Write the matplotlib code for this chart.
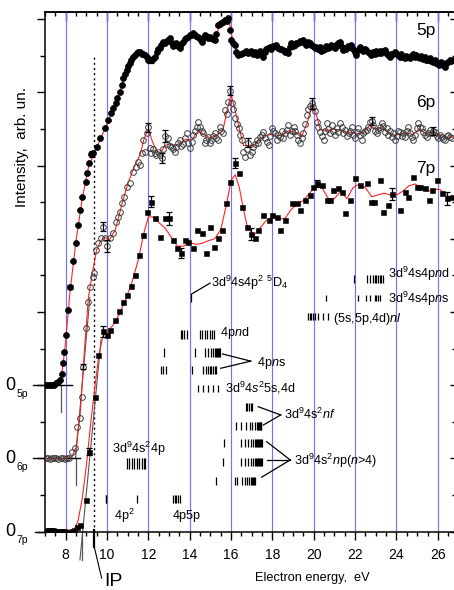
import numpy as np
import matplotlib
matplotlib.use('Agg')
import matplotlib.pyplot as plt
from matplotlib import font_manager as fm

names = {f.name for f in fm.fontManager.ttflist}
BASE = 'Liberation Sans' if 'Liberation Sans' in names else 'DejaVu Sans'
NARROW = 'Liberation Sans Narrow' if 'Liberation Sans Narrow' in names else None
plt.rcParams['font.family'] = [BASE, 'DejaVu Sans']
plt.rcParams['mathtext.fontset'] = 'custom'
plt.rcParams['mathtext.rm'] = BASE
plt.rcParams['mathtext.it'] = BASE + ':italic'
plt.rcParams['mathtext.bf'] = BASE + ':bold'

# ---------------- data ----------------
# 5p (filled circles), offset baseline 4
e5 = [7.05, 7.15, 7.25, 7.35, 7.45, 7.55, 7.65, 7.72, 7.80, 7.86,
      7.93, 8.02, 8.12, 8.22, 8.37, 8.48, 8.61, 8.69, 8.80, 8.97,
      9.05, 9.14, 9.22, 9.30, 9.50, 9.66, 9.90, 10.06, 10.20, 10.30,
      10.41, 10.50, 10.62, 10.70, 10.78, 10.87, 10.95, 11.03, 11.10, 11.18,
      11.27, 11.35, 11.43, 11.51, 11.59, 11.67, 11.75, 11.83, 11.91, 12.00,
      12.12, 12.22, 12.31, 12.40, 12.48, 12.55, 12.63, 12.72, 12.80, 12.88,
      12.96, 13.04, 13.12, 13.20, 13.28, 13.36, 13.44, 13.52, 13.60, 13.68,
      13.76, 13.84, 13.92, 14.00, 14.08, 14.16, 14.24, 14.32, 14.41, 14.49,
      14.57, 14.65, 14.73, 14.81, 14.89, 14.97, 15.05, 15.13, 15.21, 15.29,
      15.37, 15.45, 15.53, 15.61, 15.70, 15.78, 15.86, 15.94, 16.02, 16.10,
      16.18, 16.26, 16.34, 16.42, 16.50, 16.58, 16.66, 16.74, 16.82, 16.90,
      16.98, 17.06, 17.14, 17.23, 17.31, 17.39, 17.47, 17.55, 17.63, 17.71,
      17.79, 17.87, 17.95, 18.03, 18.11, 18.19, 18.27, 18.35, 18.43, 18.51,
      18.59, 18.67, 18.75, 18.83, 18.92, 19.00, 19.08, 19.16, 19.24, 19.32,
      19.40, 19.48, 19.56, 19.64, 19.72, 19.80, 19.88, 19.96, 20.04, 20.13,
      20.21, 20.29, 20.37, 20.45, 20.53, 20.61, 20.69, 20.77, 20.85, 20.93,
      21.01, 21.09, 21.17, 21.25, 21.33, 21.41, 21.49, 21.57, 21.65, 21.73,
      21.82, 21.90, 21.98, 22.06, 22.14, 22.22, 22.30, 22.38, 22.46, 22.54,
      22.62, 22.70, 22.78, 22.86, 22.94, 23.02, 23.10, 23.18, 23.26, 23.34,
      23.43, 23.51, 23.59, 23.67, 23.75, 23.83, 23.91, 23.99, 24.07, 24.15,
      24.23, 24.31, 24.39, 24.47, 24.56, 24.64, 24.72, 24.80, 24.88, 24.96,
      25.04, 25.12, 25.20, 25.28, 25.36, 25.44, 25.52, 25.60, 25.68, 25.76,
      25.84, 25.92, 26.00, 26.08, 26.16, 26.24, 26.33, 26.41, 26.49, 26.57,
      26.65, 26.73]
y5 = [4.00, 4.00, 4.00, 4.01, 4.02, 4.05, 4.10, 4.14, 4.30, 4.60,
      4.92, 5.37, 6.05, 6.69, 7.40, 7.90, 8.38, 8.78, 9.15, 9.56,
      9.79, 10.06, 10.32, 10.34, 10.52, 10.75, 11.02, 11.25, 11.45, 11.57,
      11.70, 11.85, 12.02, 12.20, 12.39, 12.50, 12.61, 12.72, 12.80, 12.88,
      12.98, 13.02, 13.07, 13.10, 13.11, 13.06, 13.04, 13.02, 12.97, 12.90,
      12.89, 12.92, 12.98, 13.10, 13.18, 13.21, 13.30, 13.39, 13.36, 13.41,
      13.43, 13.48, 13.34, 13.28, 13.30, 13.34, 13.26, 13.21, 13.33, 13.39,
      13.45, 13.48, 13.52, 13.56, 13.58, 13.62, 13.57, 13.55, 13.52, 13.45,
      13.39, 13.50, 13.57, 13.55, 13.50, 13.52, 13.48, 13.45, 13.43, 13.60,
      13.84, 13.88, 13.90, 13.93, 13.98, 13.96, 14.03, 13.70, 13.43, 13.36,
      13.30, 13.10, 13.02, 13.06, 13.04, 13.07, 13.10, 13.12, 13.08, 13.11,
      13.14, 13.06, 13.10, 13.02, 13.08, 13.12, 13.04, 12.98, 13.10, 13.18,
      13.22, 13.25, 13.20, 13.28, 13.26, 13.30, 13.22, 13.18, 13.20, 13.16,
      13.10, 13.12, 13.07, 13.25, 13.34, 13.28, 13.30, 13.34, 13.36, 13.40,
      13.38, 13.43, 13.36, 13.30, 13.38, 13.34, 13.30, 13.28, 13.22, 13.25,
      13.20, 13.24, 13.12, 13.16, 13.20, 13.26, 13.22, 13.25, 13.30, 13.28,
      13.22, 13.30, 13.34, 13.39, 13.26, 13.16, 13.22, 13.20, 13.28, 13.25,
      13.30, 13.18, 13.10, 13.02, 13.15, 13.25, 13.18, 13.12, 13.20, 13.16,
      13.10, 13.08, 13.02, 13.10, 13.06, 13.12, 13.07, 13.12, 13.08, 13.12,
      13.16, 13.08, 13.02, 12.98, 13.06, 13.04, 13.10, 13.07, 13.02, 12.98,
      13.04, 12.98, 12.94, 13.00, 12.96, 12.93, 13.00, 13.04, 12.98, 13.02,
      12.96, 12.94, 13.00, 12.92, 12.98, 12.90, 12.88, 12.94, 12.86, 12.84,
      12.88, 12.80, 12.78, 12.75, 12.82, 12.74, 12.70, 12.80, 12.84, 12.89,
      12.86, 12.90]
fe5 = [7.0, 7.5, 7.7, 7.85, 8.0, 8.2, 8.5, 8.8, 9.1, 9.4, 9.7, 10.0, 10.4, 10.8,
       11.1, 11.4, 11.6, 11.8, 12.0, 12.15, 12.3, 12.5, 12.8, 13.0, 13.3, 13.6,
       14.0, 14.4, 14.8, 15.2, 15.4, 15.7, 15.9, 16.1, 16.4, 16.8, 17.2, 17.6,
       18.0, 18.4, 18.8, 19.2, 19.6, 20.0, 20.4, 20.8, 21.2, 21.6, 22.0, 22.4,
       22.8, 23.2, 23.6, 24.0, 24.4, 24.8, 25.2, 25.6, 26.0, 26.4, 26.8]
fy5 = [4.0, 4.02, 4.12, 4.45, 5.2, 6.5, 7.95, 9.1, 9.95, 10.38, 10.75, 11.15,
       11.65, 12.35, 12.8, 13.04, 13.1, 13.05, 12.92, 12.86, 12.95, 13.2, 13.38,
       13.42, 13.32, 13.36, 13.52, 13.55, 13.5, 13.46, 13.75, 13.95, 13.98, 13.35,
       13.05, 13.08, 13.08, 13.05, 13.25, 13.2, 13.12, 13.32, 13.35, 13.25, 13.18,
       13.24, 13.28, 13.25, 13.12, 13.15, 13.07, 13.1, 13.05, 13.04, 12.98, 12.98,
       12.95, 12.9, 12.8, 12.75, 12.85]

# 6p (open circles), offset baseline 2
e6 = [7.05, 7.15, 7.25, 7.35, 7.45, 7.55, 7.65, 7.75, 7.85, 7.95,
      8.05, 8.15, 8.29, 8.45, 8.57, 8.69, 8.77, 8.85, 8.98, 9.09,
      9.17, 9.30, 9.38, 9.45, 9.58, 9.71, 9.80, 9.90, 10.00, 10.14,
      10.30, 10.41, 10.54, 10.62, 10.73, 10.83, 10.95, 11.10, 11.27, 11.38,
      11.50, 11.59, 11.67, 11.75, 11.83, 11.91, 11.99, 12.07, 12.15, 12.23,
      12.31, 12.39, 12.47, 12.56, 12.64, 12.72, 12.80, 12.88, 12.96, 13.04,
      13.12, 13.20, 13.28, 13.36, 13.44, 13.52, 13.60, 13.68, 13.77, 13.85,
      13.93, 14.01, 14.09, 14.17, 14.25, 14.33, 14.41, 14.49, 14.57, 14.65,
      14.73, 14.81, 14.89, 14.97, 15.05, 15.13, 15.21, 15.29, 15.37, 15.45,
      15.53, 15.61, 15.69, 15.78, 15.87, 15.95, 16.03, 16.11, 16.19, 16.27,
      16.36, 16.44, 16.52, 16.60, 16.68, 16.76, 16.84, 16.92, 17.00, 17.08,
      17.16, 17.24, 17.32, 17.40, 17.48, 17.56, 17.64, 17.72, 17.81, 17.89,
      17.97, 18.05, 18.13, 18.21, 18.29, 18.37, 18.45, 18.53, 18.61, 18.69,
      18.77, 18.86, 18.94, 19.02, 19.10, 19.18, 19.26, 19.34, 19.42, 19.50,
      19.58, 19.66, 19.74, 19.82, 19.90, 19.98, 20.06, 20.14, 20.22, 20.30,
      20.38, 20.47, 20.55, 20.63, 20.71, 20.79, 20.87, 20.95, 21.03, 21.11,
      21.19, 21.27, 21.35, 21.43, 21.51, 21.59, 21.68, 21.76, 21.84, 21.92,
      22.00, 22.08, 22.16, 22.24, 22.32, 22.40, 22.48, 22.56, 22.64, 22.72,
      22.80, 22.88, 22.96, 23.04, 23.12, 23.20, 23.29, 23.37, 23.45, 23.53,
      23.61, 23.69, 23.77, 23.85, 23.93, 24.01, 24.09, 24.17, 24.25, 24.33,
      24.41, 24.49, 24.58, 24.66, 24.74, 24.82, 24.90, 24.98, 25.06, 25.14,
      25.22, 25.30, 25.38, 25.46, 25.54, 25.62, 25.70, 25.78, 25.86, 25.94,
      26.02, 26.10, 26.18, 26.26, 26.34, 26.42, 26.50, 26.59, 26.67]
y6 = [2.00, 2.01, 1.99, 2.00, 2.01, 2.00, 1.99, 2.00, 2.01, 1.98,
      2.00, 2.02, 2.19, 2.30, 2.87, 3.10, 3.69, 4.51, 5.56, 6.28,
      6.69, 6.95, 7.06, 7.70, 7.88, 8.02, 8.33, 8.02, 7.81, 8.02,
      8.15, 8.47, 8.61, 8.74, 8.97, 9.15, 9.43, 9.52, 9.84, 9.97,
      10.10, 10.02, 10.34, 10.70, 10.38, 10.89, 11.05, 10.48, 10.34, 10.45,
      10.34, 10.29, 10.38, 10.30, 10.21, 10.45, 10.82, 10.60, 10.75, 10.55,
      10.52, 10.45, 10.38, 10.50, 10.62, 10.70, 10.55, 10.60, 10.75, 10.89,
      10.62, 10.48, 10.66, 10.84, 10.95, 11.05, 11.20, 11.07, 10.95, 10.89,
      10.61, 10.70, 10.79, 10.62, 10.70, 10.80, 10.89, 10.75, 10.70, 11.07,
      10.95, 10.89, 11.52, 11.40, 11.75, 12.05, 11.70, 11.55, 11.30, 11.15,
      11.02, 10.85, 10.70, 10.38, 10.25, 10.45, 10.63, 10.30, 10.38, 10.52,
      10.60, 10.70, 10.62, 10.79, 10.85, 10.93, 10.75, 10.65, 10.56, 10.80,
      11.02, 10.95, 10.89, 10.70, 10.84, 10.79, 10.95, 10.75, 10.89, 10.98,
      11.11, 10.85, 10.95, 11.07, 10.95, 10.84, 10.70, 10.62, 10.75, 10.90,
      11.15, 11.39, 11.55, 11.62, 11.70, 11.60, 11.48, 11.20, 11.05, 10.93,
      10.80, 10.70, 10.95, 11.16, 11.00, 10.90, 11.11, 10.95, 10.85, 11.02,
      10.92, 11.16, 11.05, 10.88, 10.98, 10.80, 10.89, 10.95, 11.05, 10.84,
      10.75, 10.92, 11.02, 10.85, 10.70, 10.88, 10.95, 10.98, 11.05, 11.20,
      11.22, 11.10, 10.95, 10.89, 10.98, 11.05, 11.16, 11.08, 10.92, 11.02,
      10.85, 10.95, 10.79, 10.88, 10.70, 10.82, 10.95, 10.93, 10.80, 10.88,
      10.79, 10.95, 11.07, 10.90, 10.78, 10.70, 10.85, 11.02, 11.16, 11.05,
      11.02, 10.92, 10.85, 10.79, 10.90, 10.98, 10.88, 10.95, 10.92, 10.80,
      10.75, 10.84, 10.78, 10.72, 10.70, 10.80, 10.85, 10.79, 10.75]
fe6 = [7.0, 8.0, 8.3, 8.5, 8.7, 8.9, 9.1, 9.3, 9.5, 9.7, 9.9, 10.1, 10.4, 10.7,
       11.0, 11.3, 11.6, 11.8, 12.0, 12.2, 12.4, 12.6, 12.8, 13.0, 13.2, 13.5,
       13.8, 14.1, 14.4, 14.7, 15.0, 15.3, 15.6, 15.8, 16.0, 16.2, 16.4, 16.6,
       16.8, 17.0, 17.3, 17.6, 17.9, 18.2, 18.5, 18.8, 19.1, 19.4, 19.7, 19.9,
       20.1, 20.3, 20.6, 20.9, 21.2, 21.5, 21.8, 22.1, 22.4, 22.7, 23.0, 23.3,
       23.6, 23.9, 24.2, 24.5, 24.8, 25.1, 25.4, 25.7, 26.0, 26.3, 26.8]
fy6 = [2.0, 2.0, 2.05, 2.3, 3.2, 4.9, 6.4, 7.1, 7.7, 7.95, 8.05, 7.95, 8.25, 8.9,
       9.5, 9.95, 10.3, 10.75, 11.0, 10.65, 10.4, 10.35, 10.55, 10.6, 10.55, 10.6,
       10.72, 10.7, 10.95, 10.85, 10.75, 10.85, 10.95, 11.5, 11.95, 11.5, 11.0,
       10.55, 10.55, 10.5, 10.68, 10.82, 10.85, 10.8, 10.85, 10.95, 10.92, 10.78,
       11.2, 11.65, 11.45, 11.0, 10.95, 11.0, 10.98, 10.92, 10.9, 10.88, 10.9,
       11.1, 11.0, 11.05, 10.9, 10.82, 10.88, 10.9, 10.85, 11.0, 10.88, 10.92,
       10.88, 10.78, 10.78]

# 7p (filled squares), baseline 0
e7 = [7.10, 7.20, 7.30, 7.40, 7.50, 7.60, 7.70, 7.80, 7.90, 8.00,
      8.10, 8.20, 8.30, 8.40, 8.53, 8.69, 8.98, 9.14, 9.42, 9.58,
      9.79, 9.98, 10.14, 10.38, 10.59, 10.79, 10.95, 11.15, 11.35, 11.56,
      11.75, 11.94, 12.15, 12.31, 12.56, 12.80, 12.99, 13.17, 13.37, 13.56,
      13.77, 13.92, 14.17, 14.33, 14.57, 14.78, 14.97, 15.18, 15.37, 15.54,
      15.74, 15.95, 16.19, 16.36, 16.52, 16.76, 16.95, 17.16, 17.32, 17.56,
      17.81, 17.97, 18.21, 18.37, 18.61, 18.94, 19.18, 19.34, 19.58, 19.82,
      19.98, 20.14, 20.39, 20.63, 20.79, 20.95, 21.19, 21.36, 21.52, 21.76,
      22.00, 22.24, 22.56, 22.75, 22.90, 23.20, 23.36, 23.60, 23.77, 24.17,
      24.41, 24.58, 24.82, 24.98, 25.14, 25.38, 25.55, 25.71, 25.95, 26.20,
      26.44, 26.68]
y7 = [0.05, 0.05, 0.04, 0.05, 0.03, 0.02, 0.02, 0.01, 0.02, 0.00,
      -0.02, -0.03, 0.01, 0.05, 0.12, 0.18, 0.87, 2.19, 3.69, 4.83,
      5.47, 5.37, 5.51, 5.78, 6.03, 6.28, 6.47, 6.71, 7.01, 7.56,
      8.11, 8.73, 9.02, 8.56, 8.04, 8.56, 8.56, 7.97, 7.74, 7.61,
      7.97, 7.92, 7.74, 8.24, 8.15, 7.61, 8.33, 7.79, 8.02, 8.24,
      8.97, 9.56, 10.07, 9.79, 8.88, 8.33, 8.13, 8.02, 8.24, 8.65,
      8.52, 8.65, 8.61, 8.24, 8.52, 8.97, 8.97, 8.79, 9.06, 9.20,
      9.43, 9.52, 9.47, 9.06, 9.06, 9.33, 9.38, 9.29, 8.70, 9.06,
      9.66, 9.47, 9.52, 9.02, 9.02, 9.61, 8.74, 8.92, 9.22, 8.79,
      9.29, 9.15, 9.70, 9.43, 9.43, 9.38, 9.06, 9.33, 9.61, 9.25,
      9.11, 9.15]
fe7 = [7.0, 8.4, 8.6, 8.8, 9.0, 9.2, 9.4, 9.6, 9.8, 10.0, 10.3, 10.6, 10.9, 11.2,
       11.5, 11.8, 12.0, 12.2, 12.5, 12.8, 13.1, 13.4, 13.7, 14.0, 14.3, 14.6,
       14.9, 15.2, 15.5, 15.8, 16.0, 16.2, 16.4, 16.6, 16.8, 17.1, 17.4, 17.7,
       18.0, 18.3, 18.6, 18.9, 19.2, 19.5, 19.8, 20.1, 20.4, 20.7, 21.0, 21.3,
       21.6, 21.9, 22.2, 22.5, 22.8, 23.1, 23.4, 23.7, 24.0, 24.3, 24.6, 24.9,
       25.2, 25.5, 25.8, 26.1, 26.4, 26.8]
fy7 = [0.02, 0.05, 0.3, 0.9, 1.8, 2.9, 3.9, 4.8, 5.35, 5.45, 5.65, 5.95, 6.35,
       6.8, 7.4, 8.2, 8.6, 8.6, 8.45, 8.3, 8.05, 7.8, 7.8, 7.9, 7.85, 7.88, 7.95,
       8.0, 8.25, 9.0, 9.6, 9.75, 9.4, 8.8, 8.3, 8.1, 8.3, 8.5, 8.6, 8.55, 8.55,
       8.8, 8.95, 9.05, 9.25, 9.45, 9.4, 9.1, 9.1, 9.3, 9.1, 9.4, 9.5, 9.4, 9.15,
       9.2, 9.25, 9.2, 9.2, 9.3, 9.45, 9.5, 9.4, 9.3, 9.35, 9.35, 9.2, 9.1]

# error bars: energy, value, half-height
err5_e = [8.22, 9.26, 12.12]
err5_y = [6.69, 10.32, 12.89]
err5_d = [0.05, 0.07, 0.09]
err6_e = [8.85, 9.80, 10.00, 11.99, 12.64, 12.80, 15.95, 16.84, 19.90, 22.80, 25.78]
err6_y = [4.51, 8.33, 7.81, 11.05, 10.21, 10.82, 12.05, 10.63, 11.70, 11.22, 10.95]
err6_d = [0.07, 0.12, 0.16, 0.12, 0.13, 0.16, 0.12, 0.12, 0.14, 0.12, 0.12]
err7_e = [9.14, 9.79, 12.15, 12.99, 13.56, 16.19, 16.95, 20.14, 23.77, 26.44]
err7_y = [2.19, 5.47, 9.02, 8.56, 7.61, 10.07, 8.13, 9.52, 9.22, 9.11]
err7_d = [0.10, 0.14, 0.14, 0.18, 0.14, 0.14, 0.16, 0.09, 0.16, 0.18]

# ionisation potential (eV)
ip_energy = 9.38

# calculated transition energies (eV), one list per row of sticks
s_5D4 = [14.04]
s_4pnd = [13.56, 13.63, 13.71, 13.85, 14.49, 14.60, 14.73, 14.84, 14.97, 15.10, 15.18]
s_4pns_a = [12.75, 14.25, 14.73, 14.89, 15.02, 15.13, 15.20, 15.25, 15.30, 15.35, 15.40, 15.45]
s_4pns_b = [12.59, 12.69, 12.85, 14.09, 14.65, 14.78, 14.89, 14.97, 15.05, 15.13, 15.21, 15.29]
s_5s4d = [14.41, 14.65, 14.89, 15.13, 15.37]
s_nf_a = [16.70, 16.78, 16.86, 16.94, 17.02]
s_nf_b = [16.26, 16.50, 16.74, 16.90, 17.03, 17.15, 17.23, 17.28, 17.33, 17.38, 17.43, 17.47]
s_np_a = [15.65, 16.50, 16.66, 16.82, 16.94, 17.06, 17.15, 17.20, 17.25, 17.30, 17.35, 17.40, 17.45, 17.50]
s_np_b = [15.60, 16.50, 16.66, 16.82, 16.94, 17.06, 17.15, 17.20, 17.25, 17.30, 17.35, 17.40, 17.45, 17.50]
s_np_c = [15.29, 16.18, 16.29, 16.55, 16.66, 16.77, 16.87, 16.95, 17.00, 17.05, 17.10, 17.15]
s_4s24p = [10.95, 11.07, 11.19, 11.31, 11.43, 11.54, 11.67, 11.78, 11.86]
s_4p2 = [9.93, 9.97, 11.46]
s_4p5p = [13.20, 13.28, 13.36, 13.44, 13.52]
s_4s4pnd = [21.93, 22.57, 22.73, 22.86, 22.94, 23.02, 23.10, 23.18, 23.27, 23.34]
s_4s4pns = [20.57, 22.13, 22.54, 22.70, 22.94, 23.02, 23.10, 23.18]
s_nl = [19.72, 19.80, 19.88, 19.96, 20.04, 20.20, 20.44, 20.69]

series_labels = ['5p', '6p', '7p']
xtick_vals = [8, 10, 12, 14, 16, 18, 20, 22, 24, 26]

# ---------------- figure ----------------
W, H = 454, 590
fig = plt.figure(figsize=(W / 100, H / 100), dpi=100)
ax = fig.add_axes([45 / W, 58.3 / H, 410 / W, 519.4 / H])
ax.set_xlim(7.0, 26.83)
ax.set_ylim(0, 14.19)

BLUE = '#7373ff'
RED = '#ff2424'
for g in xtick_vals:
    ax.axvline(g, color=BLUE, lw=0.85, zorder=1)

# IP dotted line
ax.plot([ip_energy, ip_energy], [0, 12.98], color='k', lw=1.0, ls=(0, (1.5, 2.2)), zorder=2)
ax.plot([ip_energy, ip_energy], [0.05, -0.41], color='k', lw=1.6, clip_on=False, zorder=2)
ax.plot([ip_energy, 9.74], [-0.41, -1.27], color='k', lw=0.8, clip_on=False)
ax.text(9.85, -1.14, 'IP', fontsize=14, ha='left', va='top', clip_on=False)

# gray threshold guides
GRAY = '#555555'
ax.plot([7.75, 7.75], [4.0, 3.27], color=GRAY, lw=0.9, clip_on=False, zorder=2)
ax.plot([8.48, 8.48], [2.0, 1.27], color=GRAY, lw=0.9, clip_on=False, zorder=2)
ax.plot([8.48, 9.17], [2.0, 6.4], color=GRAY, lw=0.8, zorder=2)
ax.plot([8.80, 8.80], [0.0, -0.77], color=GRAY, lw=0.9, clip_on=False, zorder=2)
ax.plot([8.69, 9.71], [-0.77, 5.24], color=GRAY, lw=0.8, clip_on=False, zorder=2)

# zero baselines extending past the left spine
ax.plot([6.42, 8.30], [4.0, 4.0], color='k', lw=1.0, clip_on=False, zorder=2)
ax.plot([6.42, 8.69], [2.0, 2.0], color='k', lw=1.0, clip_on=False, zorder=2)
ax.plot([6.52, 7.0], [0.0, 0.0], color='k', lw=1.0, clip_on=False, zorder=2)

# fits
ax.plot(fe5, fy5, color=RED, lw=0.8, zorder=3)
ax.plot(fe6, fy6, color=RED, lw=0.8, zorder=3)
ax.plot(fe7, fy7, color=RED, lw=0.8, zorder=3)

# data
ax.plot(e5, y5, 'o', ms=4.3, mfc='k', mec='k', mew=0.5, ls='none', zorder=4)
ax.plot(e6, y6, 'o', ms=4.1, mfc='none', mec='#3c3c3c', mew=0.7, ls='none', zorder=4)
ax.plot(e7, y7, 's', ms=3.6, mfc='k', mec='k', mew=0.4, ls='none', zorder=4)

for ee, yy, dd in ((err5_e, err5_y, err5_d), (err6_e, err6_y, err6_d), (err7_e, err7_y, err7_d)):
    ax.errorbar(ee, yy, yerr=dd, fmt='none', ecolor='k', elinewidth=0.9,
                capsize=2.2, capthick=0.9, zorder=5)

# stick spectra
rows = [
    (s_5D4, 6.28, 6.52), (s_4pnd, 5.26, 5.51), (s_4pns_a, 4.78, 5.01),
    (s_4pns_b, 4.31, 4.53), (s_5s4d, 3.83, 4.01), (s_nf_a, 3.31, 3.51),
    (s_nf_b, 2.78, 3.00), (s_np_a, 2.31, 2.52), (s_np_b, 1.80, 2.02),
    (s_np_c, 1.28, 1.50), (s_4s24p, 1.70, 2.00), (s_4p2, 0.79, 1.00),
    (s_4p5p, 0.79, 1.00), (s_4s4pnd, 6.79, 7.00), (s_4s4pns, 6.31, 6.47),
    (s_nl, 5.78, 5.98),
]
for en, lo, hi in rows:
    ax.vlines(en, lo, hi, colors='k', lw=0.9, zorder=3)

# bracket / pointer lines
lines_k = [
    ([14.14, 14.98], [6.51, 6.79]),
    ([15.59, 16.95], [4.855, 4.66]), ([15.50, 16.95], [4.465, 4.66]),
    ([17.31, 18.40], [3.415, 3.19]), ([17.56, 18.40], [2.915, 3.19]),
    ([17.72, 18.86], [2.46, 1.96]), ([17.72, 18.86], [1.96, 1.96]),
    ([17.48, 18.86], [1.49, 1.96]),
]
for xs, ys in lines_k:
    ax.plot(xs, ys, color='k', lw=0.9, zorder=3)

FS = 9.1
ax.text(15.05, 6.79, r'3d$^9$4s4p$^2$ $^5$D$_4$', fontsize=FS, va='center', ha='left')
ax.text(15.45, 5.43, r'4p$\mathit{n}$d', fontsize=FS, va='center', ha='left')
ax.text(17.24, 4.62, r'4p$\mathit{n}$s', fontsize=FS, va='center', ha='left')
ax.text(15.70, 3.94, r'3d$^9$4$\mathit{s}^2$5s,4d', fontsize=FS, va='center', ha='left')
ax.text(18.54, 3.20, r'3d$^9$4s$^2$$\mathit{nf}$', fontsize=FS, va='center', ha='left')
ax.text(19.03, 1.94, r'3d$^9$4s$^2$$\mathit{n}$p($\mathit{n}$>4)', fontsize=FS, va='center', ha='left')
ax.text(10.22, 2.26, r'3d$^9$4s$^2$4p', fontsize=FS, va='center', ha='left')
ax.text(10.33, 0.44, r'4p$^2$', fontsize=FS, va='center', ha='left')
ax.text(13.17, 0.42, '4p5p', fontsize=FS, va='center', ha='left')
ax.text(23.58, 7.04, r'3d$^9$4s4p$\mathit{n}$d', fontsize=FS, va='center', ha='left')
ax.text(23.58, 6.36, r'3d$^9$4s4p$\mathit{n}$s', fontsize=FS, va='center', ha='left')
ax.text(20.92, 5.82, r'(5s,5p,4d)$\mathit{nl}$', fontsize=FS, va='center', ha='left')

# series labels
for lab, yb in zip(series_labels, [13.57, 11.61, 9.79]):
    ax.text(24.95, yb, lab, fontsize=12.5, ha='left', va='baseline')

# zero labels on the left
for lab, yz in zip(series_labels, [4.0, 2.0, 0.0]):
    ax.text(5.07, yz, '0', fontsize=13, ha='left', va='center', clip_on=False)
    ax.text(5.62, yz - 0.24, lab, fontsize=7.5, ha='left', va='center', clip_on=False)

# ticks
ax.set_xticks(xtick_vals)
ax.set_xticks(np.arange(7, 26.9, 0.5), minor=True)
ax.set_yticks(np.arange(0, 15, 2))
ax.set_yticks(np.arange(1, 15, 2), minor=True)
ax.set_yticklabels([])
ax.tick_params(axis='x', which='major', direction='out', length=5.5, width=1.0,
               labelsize=10, pad=6, top=False)
ax.tick_params(axis='x', which='minor', direction='out', length=3, width=1.0, top=False)
ax.tick_params(axis='y', which='major', direction='out', length=6, width=1.0, right=False)
ax.tick_params(axis='y', which='minor', direction='out', length=3.5, width=1.0, right=False)

sx = ax.secondary_xaxis('top')
sx.set_xticks(xtick_vals)
sx.set_xticks(np.arange(7, 26.9, 0.5), minor=True)
sx.tick_params(axis='x', which='major', direction='in', length=6.5, width=1.0, labeltop=False)
sx.tick_params(axis='x', which='minor', direction='in', length=3, width=1.0)
sx.set_xticklabels([])
sy = ax.secondary_yaxis('right')
sy.set_yticks(np.arange(0, 15, 2))
sy.set_yticks(np.arange(1, 15, 2), minor=True)
sy.tick_params(axis='y', which='major', direction='in', length=3.5, width=1.0, labelright=False)
sy.tick_params(axis='y', which='minor', direction='in', length=2, width=1.0)
sy.set_yticklabels([])

for sp in ax.spines.values():
    sp.set_linewidth(1.1)
for sp in list(sx.spines.values()) + list(sy.spines.values()):
    sp.set_linewidth(1.1)

# axis titles
if NARROW:
    ax.text(0.653, -0.089, 'Electron energy,  eV', transform=ax.transAxes, fontsize=10.5,
            family=[NARROW, BASE], ha='center', va='center')
else:
    ax.text(0.653, -0.089, 'Electron energy,  eV', transform=ax.transAxes, fontsize=9.2,
            ha='center', va='center')
fig.text(21.7 / W, 1 - 147 / H, 'Intensity,  arb. un.', rotation=90, fontsize=11,
         ha='center', va='center')

fig.savefig('out.png', dpi=100)
